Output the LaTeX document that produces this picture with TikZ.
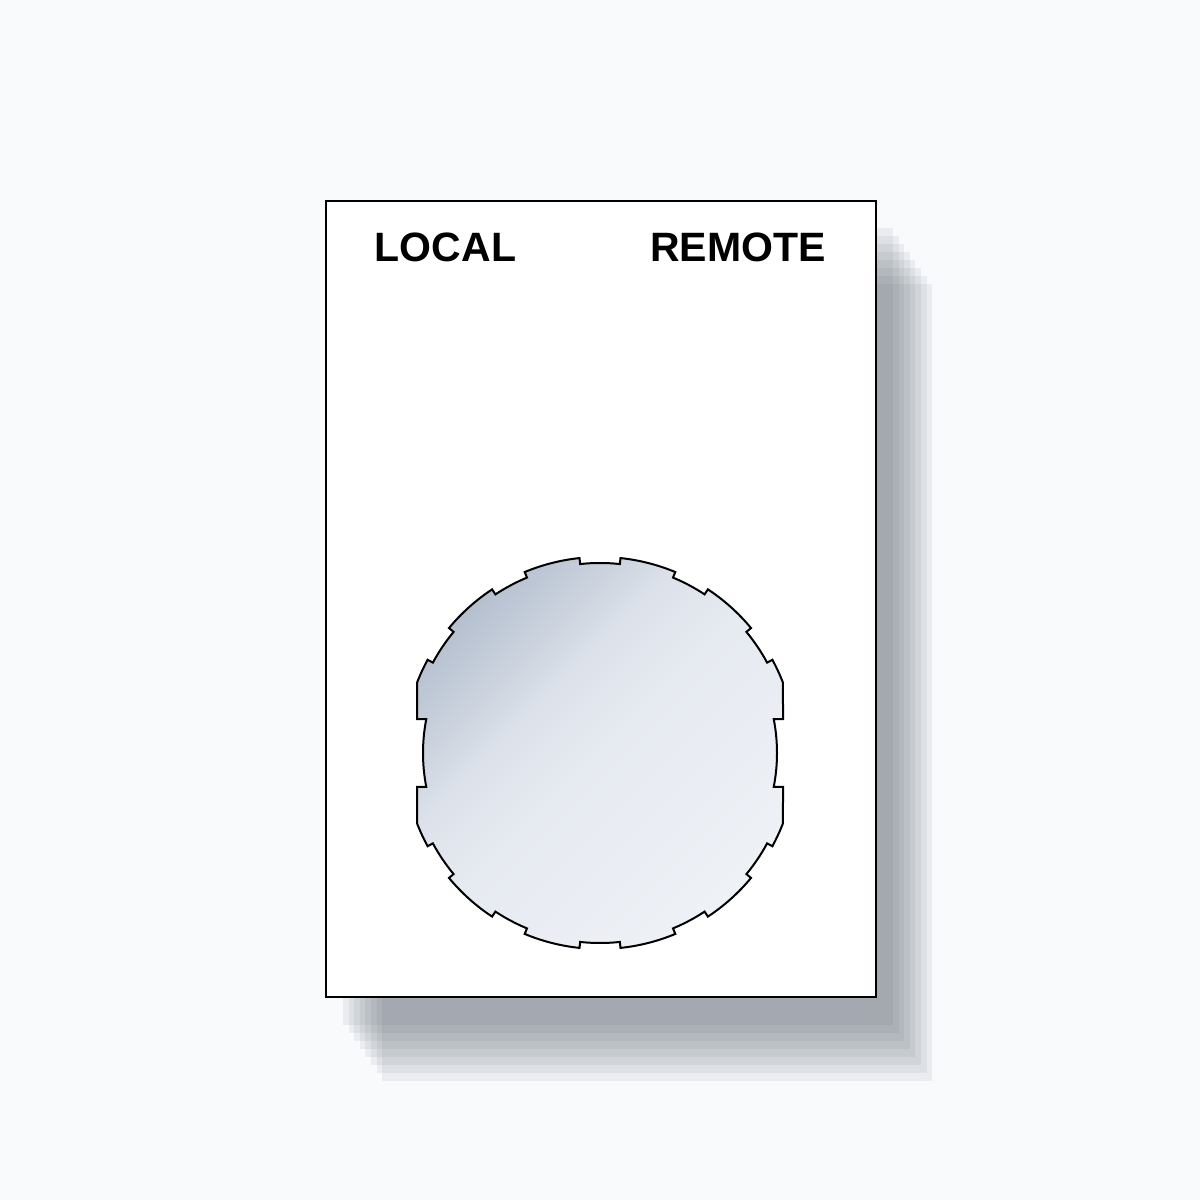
\documentclass[tikz,border=0pt]{standalone}
\usepackage{fontspec}
\setmainfont{Liberation Sans}
\definecolor{bgc}{RGB}{248,250,252}
\definecolor{shc}{RGB}{90,98,112}
\definecolor{dL}{HTML}{F0F2F7}
\definecolor{dL2}{HTML}{EEF1F6}
\definecolor{dM}{HTML}{E6EAF1}
\definecolor{dM2}{HTML}{DDE2EA}
\definecolor{dM3}{HTML}{C8D0DC}
\definecolor{dD}{HTML}{B0BBCB}
\definecolor{dD2}{HTML}{A3AFC2}
\pgfdeclareverticalshading{discshade}{100bp}{color(0bp)=(dL); color(25bp)=(dL2); color(50bp)=(dM); color(60bp)=(dM2); color(68bp)=(dM3); color(78bp)=(dD); color(100bp)=(dD2)}
\tikzset{
  plate/.style={draw=black, line width=2pt, fill=white},
  shadowlayer/.style={fill=shc, fill opacity=0.085},
  label/.style={font=\bfseries\fontsize{41}{41}\selectfont, anchor=base, inner sep=0pt},
  disc/.style={draw=black, line width=2pt, line join=miter, shading=discshade, shading angle=45}
}
\begin{document}
\begin{tikzpicture}[x=1pt,y=1pt]
\useasboundingbox[fill=bgc] (0,0) rectangle (1200,1200);
% shadow layers
\foreach \k in {0,...,7}{
  \fill[shadowlayer] ({343+5.6*\k},{175-8*\k}) rectangle ({893+5.6*\k},{972-8*\k});
}
% plate
\node[plate, minimum width=550pt, minimum height=796pt, inner sep=0pt, anchor=south west] (plate) at (325,202) {};
% labels
\node[label] (local) at (445.5,938) {LOCAL};
\node[label] (remote) at (738,938) {REMOTE};
% notched disc
\begin{scope}[shift={(600,447)}]
\path[disc] (-11:177pt) arc[start angle=-11,end angle=11,radius=177pt]
 -- (183,33.8) -- (21:196pt) arc[start angle=21,end angle=28.4,radius=196pt]
 -- (28.4:190pt) arc[start angle=28.4,end angle=39.6,radius=190pt]
 -- (39.6:196pt) arc[start angle=39.6,end angle=56.6,radius=196pt]
 -- (56.6:190pt) arc[start angle=56.6,end angle=67.4,radius=190pt]
 -- (67.4:196pt) arc[start angle=67.4,end angle=84,radius=196pt]
 -- (84:190pt) arc[start angle=84,end angle=96,radius=190pt]
 -- (96:196pt) arc[start angle=96,end angle=112.6,radius=196pt]
 -- (112.6:190pt) arc[start angle=112.6,end angle=123.4,radius=190pt]
 -- (123.4:196pt) arc[start angle=123.4,end angle=140.4,radius=196pt]
 -- (140.4:190pt) arc[start angle=140.4,end angle=151.6,radius=190pt]
 -- (151.6:196pt) arc[start angle=151.6,end angle=159,radius=196pt]
 -- (-183,33.8) -- (169:177pt) arc[start angle=169,end angle=191,radius=177pt]
 -- (-183,-33.8) -- (201:196pt) arc[start angle=201,end angle=208.4,radius=196pt]
 -- (208.4:190pt) arc[start angle=208.4,end angle=219.6,radius=190pt]
 -- (219.6:196pt) arc[start angle=219.6,end angle=236.6,radius=196pt]
 -- (236.6:190pt) arc[start angle=236.6,end angle=247.4,radius=190pt]
 -- (247.4:196pt) arc[start angle=247.4,end angle=264,radius=196pt]
 -- (264:190pt) arc[start angle=264,end angle=276,radius=190pt]
 -- (276:196pt) arc[start angle=276,end angle=292.6,radius=196pt]
 -- (292.6:190pt) arc[start angle=292.6,end angle=303.4,radius=190pt]
 -- (303.4:196pt) arc[start angle=303.4,end angle=320.4,radius=196pt]
 -- (320.4:190pt) arc[start angle=320.4,end angle=331.6,radius=190pt]
 -- (331.6:196pt) arc[start angle=331.6,end angle=339,radius=196pt]
 -- (183,-33.8) -- cycle;
\end{scope}
\end{tikzpicture}
\end{document}
